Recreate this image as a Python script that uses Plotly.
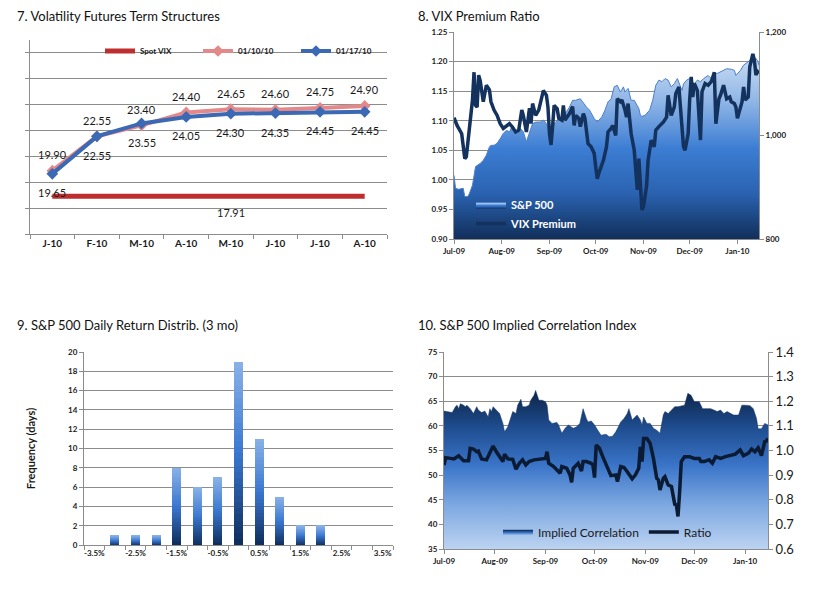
import plotly.graph_objects as go
import pandas as pd

FONT = "Lato"
GRID = "#8C8C8C"
TXT = "#1A1A1A"

# ---------------- Panel 7 data ----------------
contract_keys = ["Jan-10", "Feb-10", "Mar-10", "Apr-10", "May-10", "Jun-10", "Jul-10", "Aug-10"]
contract_labels = ["J-10", "F-10", "M-10", "A-10", "M-10", "J-10", "J-10", "A-10"]
spot_vix = [17.91] * 8
fut_0110 = [19.90, 22.55, 23.40, 24.40, 24.65, 24.60, 24.75, 24.90]
fut_0117 = [19.65, 22.55, 23.55, 24.05, 24.30, 24.35, 24.45, 24.45]

# ---------------- Panel 8 data (days after 2009-07-01) ----------------
vix_days = [0, 2, 5, 6, 7, 8, 10, 12, 13, 14,
            15, 16, 17, 19, 21, 23, 24, 26, 28, 30,
            32, 34, 36, 38, 40, 42, 44, 45, 46, 47,
            49, 50, 51, 53, 55, 57, 58, 60, 61, 62,
            63, 64, 65, 67, 68, 70, 71, 72, 74, 75,
            77, 78, 79, 81, 82, 84, 85, 87, 89, 91,
            92, 93, 94, 97, 99, 100, 102, 103, 105, 106,
            108, 109, 111, 112, 113, 114, 115, 117, 118, 119,
            120, 121, 122, 123, 125, 126, 128, 130, 131, 133,
            136, 138, 139, 141, 143, 144, 146, 147, 149, 150,
            152, 153, 154, 155, 156, 158, 159, 160, 161, 163,
            165, 167, 169, 170, 172, 173, 175, 177, 179, 180,
            182, 183, 184, 185, 187, 188, 189, 191, 192, 194,
            195, 196, 197, 198]
vix_premium = [1.105, 1.092, 1.078, 1.053, 1.036, 1.039, 1.090, 1.135, 1.182, 1.126,
               1.123, 1.177, 1.168, 1.132, 1.160, 1.152, 1.132, 1.118, 1.109, 1.095,
               1.087, 1.092, 1.095, 1.089, 1.081, 1.084, 1.118, 1.109, 1.090, 1.081,
               1.121, 1.095, 1.129, 1.109, 1.118, 1.137, 1.151, 1.143, 1.123, 1.078,
               1.059, 1.090, 1.126, 1.120, 1.104, 1.101, 1.126, 1.101, 1.109, 1.112,
               1.124, 1.092, 1.109, 1.104, 1.090, 1.112, 1.104, 1.061, 1.056, 1.045,
               1.022, 1.002, 1.011, 1.033, 1.056, 1.081, 1.087, 1.092, 1.075, 1.137,
               1.132, 1.135, 1.118, 1.106, 1.129, 1.106, 1.078, 1.050, 1.011, 0.983,
               1.036, 0.983, 0.949, 0.955, 0.989, 1.033, 1.067, 1.056, 1.084, 1.090,
               1.098, 1.106, 1.143, 1.109, 1.123, 1.146, 1.157, 1.123, 1.056, 1.050,
               1.078, 1.135, 1.174, 1.140, 1.163, 1.151, 1.118, 1.067, 1.149, 1.163,
               1.160, 1.166, 1.182, 1.095, 1.137, 1.143, 1.160, 1.137, 1.140, 1.132,
               1.129, 1.123, 1.104, 1.112, 1.132, 1.157, 1.135, 1.140, 1.191, 1.213,
               1.202, 1.177, 1.183, 1.180]

sp_days = [0, 1, 3, 6, 7, 9, 10, 12, 14, 17,
           19, 21, 23, 24, 26, 28, 30, 32, 34, 36,
           38, 40, 43, 45, 47, 49, 51, 53, 56, 58,
           60, 62, 64, 66, 69, 71, 73, 75, 77, 79,
           82, 84, 86, 88, 90, 91, 93, 96, 98, 100,
           102, 104, 106, 108, 110, 111, 113, 115, 117, 118,
           120, 121, 122, 124, 127, 129, 131, 133, 135, 137,
           139, 141, 143, 145, 148, 149, 151, 153, 156, 158,
           160, 162, 165, 167, 169, 171, 174, 177, 180, 182,
           183, 186, 188, 191, 193, 195, 196, 197, 198]
sp500 = [923, 898, 896, 898, 882, 882, 888, 904, 940, 946,
         952, 962, 978, 981, 981, 985, 994, 1004, 1010, 1007,
         1020, 1004, 1014, 1007, 988, 1007, 1023, 1026, 1026, 1030,
         1023, 1010, 1017, 1026, 1033, 1036, 1046, 1055, 1068, 1068,
         1071, 1062, 1055, 1049, 1039, 1033, 1026, 1036, 1049, 1065,
         1071, 1094, 1097, 1084, 1094, 1084, 1091, 1068, 1068, 1062,
         1052, 1039, 1037, 1039, 1049, 1068, 1097, 1107, 1104, 1110,
         1107, 1094, 1100, 1110, 1087, 1100, 1107, 1110, 1100, 1107,
         1104, 1110, 1116, 1110, 1120, 1120, 1125, 1129, 1128, 1126,
         1116, 1126, 1136, 1143, 1147, 1145, 1149, 1145, 1136]

# ---------------- Panel 9 data ----------------
return_bins = [-3.5, -3.0, -2.5, -2.0, -1.5, -1.0, -0.5, 0.0, 0.5, 1.0, 1.5, 2.0, 2.5, 3.0, 3.5]
frequency_days = [0, 1, 1, 1, 8, 6, 7, 19, 11, 5, 2, 2, 0, 0, 0]
bin_labels = [-3.5, -2.5, -1.5, -0.5, 0.5, 1.5, 2.5, 3.5]

# ---------------- Panel 10 data (days after 2009-07-01) ----------------
ic_days = [0, 3, 5, 7, 8, 9, 10, 12, 13, 14,
           16, 18, 20, 21, 23, 25, 27, 28, 29, 30,
           32, 34, 36, 37, 39, 41, 42, 44, 45, 47,
           48, 50, 52, 53, 55, 56, 58, 60, 62, 63,
           64, 66, 69, 70, 72, 74, 76, 79, 81, 83,
           85, 87, 88, 90, 92, 94, 96, 99, 101, 103,
           105, 108, 110, 112, 113, 115, 116, 118, 120, 121,
           122, 124, 126, 128, 130, 132, 134, 135, 137, 139,
           141, 143, 145, 147, 149, 151, 153, 156, 158, 161,
           163, 165, 167, 169, 171, 173, 175, 177, 180, 182,
           184, 187, 189, 191, 192, 194, 196, 197, 198]
implied_corr = [63.0, 62.9, 62.7, 63.9, 64.2, 63.5, 64.5, 64.2, 63.9, 64.2,
                63.5, 62.5, 63.9, 63.2, 62.7, 63.0, 61.8, 63.5, 62.9, 63.9,
                63.2, 62.5, 60.5, 58.8, 59.8, 62.2, 62.9, 62.5, 64.2, 65.4,
                63.9, 63.9, 64.2, 65.2, 66.2, 67.2, 65.2, 65.2, 64.9, 64.2,
                61.2, 60.5, 60.7, 60.2, 58.5, 59.5, 60.2, 59.5, 59.8, 60.5,
                63.5, 61.5, 60.8, 61.0, 60.2, 59.1, 58.1, 58.3, 57.8, 57.9,
                58.8, 60.8, 61.5, 62.5, 63.5, 61.2, 61.5, 62.2, 61.2, 60.2,
                61.8, 60.5, 60.5, 59.5, 59.1, 58.5, 62.2, 62.9, 62.5, 63.2,
                63.9, 63.9, 64.0, 64.2, 66.6, 66.2, 64.9, 64.9, 63.5, 63.5,
                63.5, 63.2, 62.9, 63.2, 62.5, 62.9, 62.5, 62.2, 62.2, 64.2,
                64.2, 64.1, 63.5, 61.5, 59.4, 59.4, 60.5, 60.3, 60.2]

ratio_days = [0, 1, 4, 6, 9, 12, 15, 16, 18, 20,
              21, 23, 26, 28, 30, 32, 34, 36, 37, 39,
              42, 44, 46, 48, 50, 52, 55, 59, 62, 63,
              64, 67, 69, 71, 72, 75, 77, 78, 79, 82,
              84, 85, 87, 90, 91, 92, 93, 95, 97, 100,
              102, 105, 106, 108, 110, 112, 115, 117, 119, 120,
              121, 122, 124, 126, 128, 130, 131, 132, 134, 135,
              137, 139, 141, 142, 143, 144, 145, 147, 150, 153,
              156, 157, 159, 162, 164, 166, 169, 172, 175, 178,
              181, 183, 186, 188, 190, 192, 194, 196, 197, 198]
ratio = [0.941, 0.971, 0.968, 0.966, 0.979, 0.958, 0.958, 1.009, 1.006, 0.995,
         0.998, 0.966, 0.962, 0.989, 1.018, 0.995, 0.975, 0.955, 0.985, 0.966,
         0.964, 0.924, 0.948, 0.962, 0.941, 0.955, 0.962, 0.966, 0.968, 0.995,
         0.948, 0.935, 0.921, 0.908, 0.935, 0.928, 0.901, 0.871, 0.928, 0.948,
         0.917, 0.955, 0.955, 0.948, 0.941, 0.890, 1.022, 1.009, 0.975, 0.928,
         0.898, 0.901, 0.874, 0.935, 0.931, 0.914, 0.885, 0.901, 0.928, 1.015,
         0.955, 1.049, 1.049, 1.029, 0.968, 0.887, 0.881, 0.840, 0.887, 0.894,
         0.860, 0.854, 0.782, 0.779, 0.732, 0.833, 0.955, 0.975, 0.975, 0.968,
         0.968, 0.955, 0.955, 0.962, 0.948, 0.975, 0.968, 0.975, 0.979, 0.985,
         1.002, 0.979, 0.989, 1.006, 0.995, 1.011, 0.979, 1.036, 1.038, 1.049]

START = pd.Timestamp("2009-07-01")


def to_dates(days):
    return [START + pd.Timedelta(days=d) for d in days]


def hex2rgb(h):
    h = h.lstrip("#")
    return tuple(int(h[i:i + 2], 16) for i in (0, 2, 4))


def interp_color(stops, t):
    for (t0, c0), (t1, c1) in zip(stops[:-1], stops[1:]):
        if t0 <= t <= t1:
            f = (t - t0) / (t1 - t0) if t1 > t0 else 0
            a, b = hex2rgb(c0), hex2rgb(c1)
            return "rgb(%d,%d,%d)" % tuple(round(a[i] + (b[i] - a[i]) * f) for i in range(3))
    return stops[-1][1]


fig = go.Figure()

# ---------------- Panel 7 ----------------
fig.add_trace(go.Scatter(
    x=contract_keys, y=spot_vix, mode="lines", name="Spot VIX",
    line=dict(color="#BE2E2E", width=5), xaxis="x", yaxis="y", legend="legend"))
fig.add_trace(go.Scatter(
    x=contract_keys, y=fut_0110, mode="lines+markers", name="01/10/10",
    line=dict(color="#E3898A", width=4), marker=dict(symbol="diamond", size=9, color="#E3898A"),
    xaxis="x", yaxis="y", legend="legend"))
fig.add_trace(go.Scatter(
    x=contract_keys, y=fut_0117, mode="lines+markers", name="01/17/10",
    line=dict(color="#3B69B3", width=4), marker=dict(symbol="diamond", size=9, color="#3B69B3"),
    xaxis="x", yaxis="y", legend="legend"))

label_font = dict(family=FONT, size=11, color=TXT)
for k, v in zip(contract_keys, fut_0110):
    fig.add_annotation(x=k, y=v, xref="x", yref="y", text=f"{v:.2f}", showarrow=False,
                       yshift=16, font=label_font)
for k, v in zip(contract_keys, fut_0117):
    fig.add_annotation(x=k, y=v, xref="x", yref="y", text=f"{v:.2f}", showarrow=False,
                       yshift=-19, font=label_font)
fig.add_annotation(x=contract_keys[4], y=spot_vix[4], xref="x", yref="y",
                   text=f"{spot_vix[4]:.2f}", showarrow=False, yshift=-16, font=label_font)

# ---------------- Panel 8 ----------------
fig.add_trace(go.Scatter(
    x=to_dates(sp_days), y=sp500, mode="lines", name="S&P 500", fill="tozeroy",
    line=dict(color="#4C80C8", width=1),
    fillgradient=dict(type="vertical", start=800, stop=1150,
                      colorscale=[[0, "#112F5A"], [0.25, "#2A62B0"], [0.5, "#3C7DD3"],
                                  [0.75, "#8DB4E6"], [1, "#C8DBF2"]]),
    xaxis="x2", yaxis="y2", legend="legend2"))
fig.add_trace(go.Scatter(
    x=to_dates(vix_days), y=vix_premium, mode="lines", name="VIX Premium",
    line=dict(color="#14325E", width=3.5),
    xaxis="x2", yaxis="y3", legend="legend2"))

# ---------------- Panel 9 ----------------
NSLICE = 30
bar_stops = [(0, "#0E2C5A"), (0.5, "#3A77D0"), (1, "#8AB2E8")]
for k in range(NSLICE):
    fig.add_trace(go.Bar(
        x=return_bins, y=[v / NSLICE for v in frequency_days], width=0.22,
        marker=dict(color=interp_color(bar_stops, (k + 0.5) / NSLICE), line=dict(width=0)),
        showlegend=False, hoverinfo="skip", xaxis="x3", yaxis="y4"))

# ---------------- Panel 10 ----------------
fig.add_trace(go.Scatter(
    x=to_dates(ic_days), y=implied_corr, mode="lines", name="Implied Correlation", fill="tozeroy",
    line=dict(color="#17375E", width=0.5),
    fillgradient=dict(type="vertical", start=35, stop=66,
                      colorscale=[[0, "#BCD3F1"], [0.3, "#7AA6E0"], [0.55, "#3A74C8"],
                                  [0.8, "#1E4C8E"], [1, "#0F2A52"]]),
    xaxis="x4", yaxis="y5", legend="legend3"))
fig.add_trace(go.Scatter(
    x=to_dates(ratio_days), y=ratio, mode="lines", name="Ratio",
    line=dict(color="#0B1B33", width=3.5),
    xaxis="x4", yaxis="y6", legend="legend3"))


def px_x(p):
    return p / 826


def px_y(p):
    return 1 - p / 595


tick_small = dict(family=FONT, size=8, color=TXT, weight="bold")
axis_common = dict(showline=True, linecolor=GRID, linewidth=1, ticks="outside",
                   ticklen=4, tickcolor=GRID, zeroline=False, automargin=False)

fig.update_layout(
    template="none",
    width=826, height=595, margin=dict(l=0, r=0, t=0, b=0, pad=0), autosize=False,
    paper_bgcolor="white", plot_bgcolor="white", barmode="stack", bargap=0,
    font=dict(family=FONT, color=TXT),
    # panel 7
    xaxis=dict(domain=[px_x(30), px_x(387)], anchor="y", type="category",
               tickvals=contract_keys, ticktext=contract_labels, tickson="boundaries",
               range=[-0.5, 7.5], showgrid=False,
               tickfont=dict(family=FONT, size=10, color=TXT, weight="bold"), **axis_common),
    yaxis=dict(domain=[px_y(234), px_y(40)], anchor="x", range=[15, 30], tick0=15, dtick=2,
               showticklabels=False, showgrid=True, gridcolor=GRID, gridwidth=1, **axis_common),
    # panel 8
    xaxis2=dict(domain=[px_x(454), px_x(759)], anchor="y2", type="date",
                range=["2009-07-01", "2010-01-15"], tick0="2009-07-01", dtick="M1",
                tickformat="%b-%y", showgrid=False, tickfont=tick_small, **axis_common),
    yaxis2=dict(domain=[px_y(239), px_y(32)], anchor="x2", side="right", range=[800, 1200],
                dtick=200, tickformat=",", showgrid=False, tickfont=tick_small, **axis_common),
    yaxis3=dict(anchor="x2", overlaying="y2", side="left", range=[0.90, 1.25], dtick=0.05,
                tickformat=".2f", showgrid=True, gridcolor=GRID, tickfont=tick_small, **axis_common),
    # panel 9
    xaxis3=dict(domain=[px_x(84), px_x(393)], anchor="y4", range=[-3.75, 3.75],
                tickmode="array", tickvals=bin_labels,
                ticktext=[f"{b:.1f}%" for b in bin_labels],
                showgrid=False, tickfont=tick_small, showline=True, linecolor=GRID,
                ticks="", zeroline=False, automargin=False,
                minor=dict(tickmode="array",
                           tickvals=[b - 0.25 for b in return_bins] + [return_bins[-1] + 0.25],
                           ticks="outside", ticklen=4, tickcolor=GRID, showgrid=False)),
    yaxis4=dict(domain=[px_y(545), px_y(352)], anchor="x3", range=[0, 20], dtick=2,
                showgrid=True, gridcolor=GRID, tickfont=tick_small,
                title=dict(text="Frequency (days)", standoff=30,
                           font=dict(family=FONT, size=11, color=TXT, weight="bold")),
                **axis_common),
    # panel 10
    xaxis4=dict(domain=[px_x(444), px_x(768)], anchor="y5", type="date",
                range=["2009-07-01", "2010-01-15"], tick0="2009-07-01", dtick="M1",
                tickformat="%b-%y", showgrid=False, tickfont=tick_small, **axis_common),
    yaxis5=dict(domain=[px_y(549), px_y(352)], anchor="x4", side="left", range=[35, 75], dtick=5,
                showgrid=True, gridcolor=GRID, tickfont=tick_small, **axis_common),
    yaxis6=dict(anchor="x4", overlaying="y5", side="right", range=[0.6, 1.4], dtick=0.1,
                tickformat=".1f", showgrid=False,
                tickfont=dict(family=FONT, size=13, color=TXT), **axis_common),
    legend=dict(orientation="h", x=px_x(100), y=px_y(51), xanchor="left", yanchor="middle",
                bgcolor="rgba(0,0,0,0)", font=dict(family=FONT, size=8, color=TXT, weight="bold"),
                itemwidth=30, entrywidth=53, tracegroupgap=0, traceorder="normal"),
    legend2=dict(orientation="v", x=px_x(471), y=px_y(190), xanchor="left", yanchor="top",
                 bgcolor="rgba(0,0,0,0)", font=dict(family=FONT, size=11, color="white", weight="bold"),
                 itemwidth=30, tracegroupgap=0, traceorder="normal"),
    legend3=dict(orientation="h", x=px_x(498), y=px_y(532), xanchor="left", yanchor="middle",
                 bgcolor="rgba(0,0,0,0)", font=dict(family=FONT, size=12, color=TXT),
                 itemwidth=30, tracegroupgap=0, traceorder="normal"),
)

titles = [
    ("7. Volatility Futures Term Structures", 15, 16),
    ("8. VIX Premium Ratio", 416, 16),
    ("9. S&P 500 Daily Return Distrib. (3 mo)", 15, 325),
    ("10. S&P 500 Implied Correlation Index", 416, 325),
]
for text, xp, yp in titles:
    fig.add_annotation(text=text, x=px_x(xp), y=px_y(yp), xref="paper", yref="paper",
                       xanchor="left", yanchor="middle", showarrow=False,
                       font=dict(family=FONT, size=13, color="#111111"))

fig.write_html("out.html", config={"displayModeBar": False},
               post_script="document.body.style.margin='0';")
